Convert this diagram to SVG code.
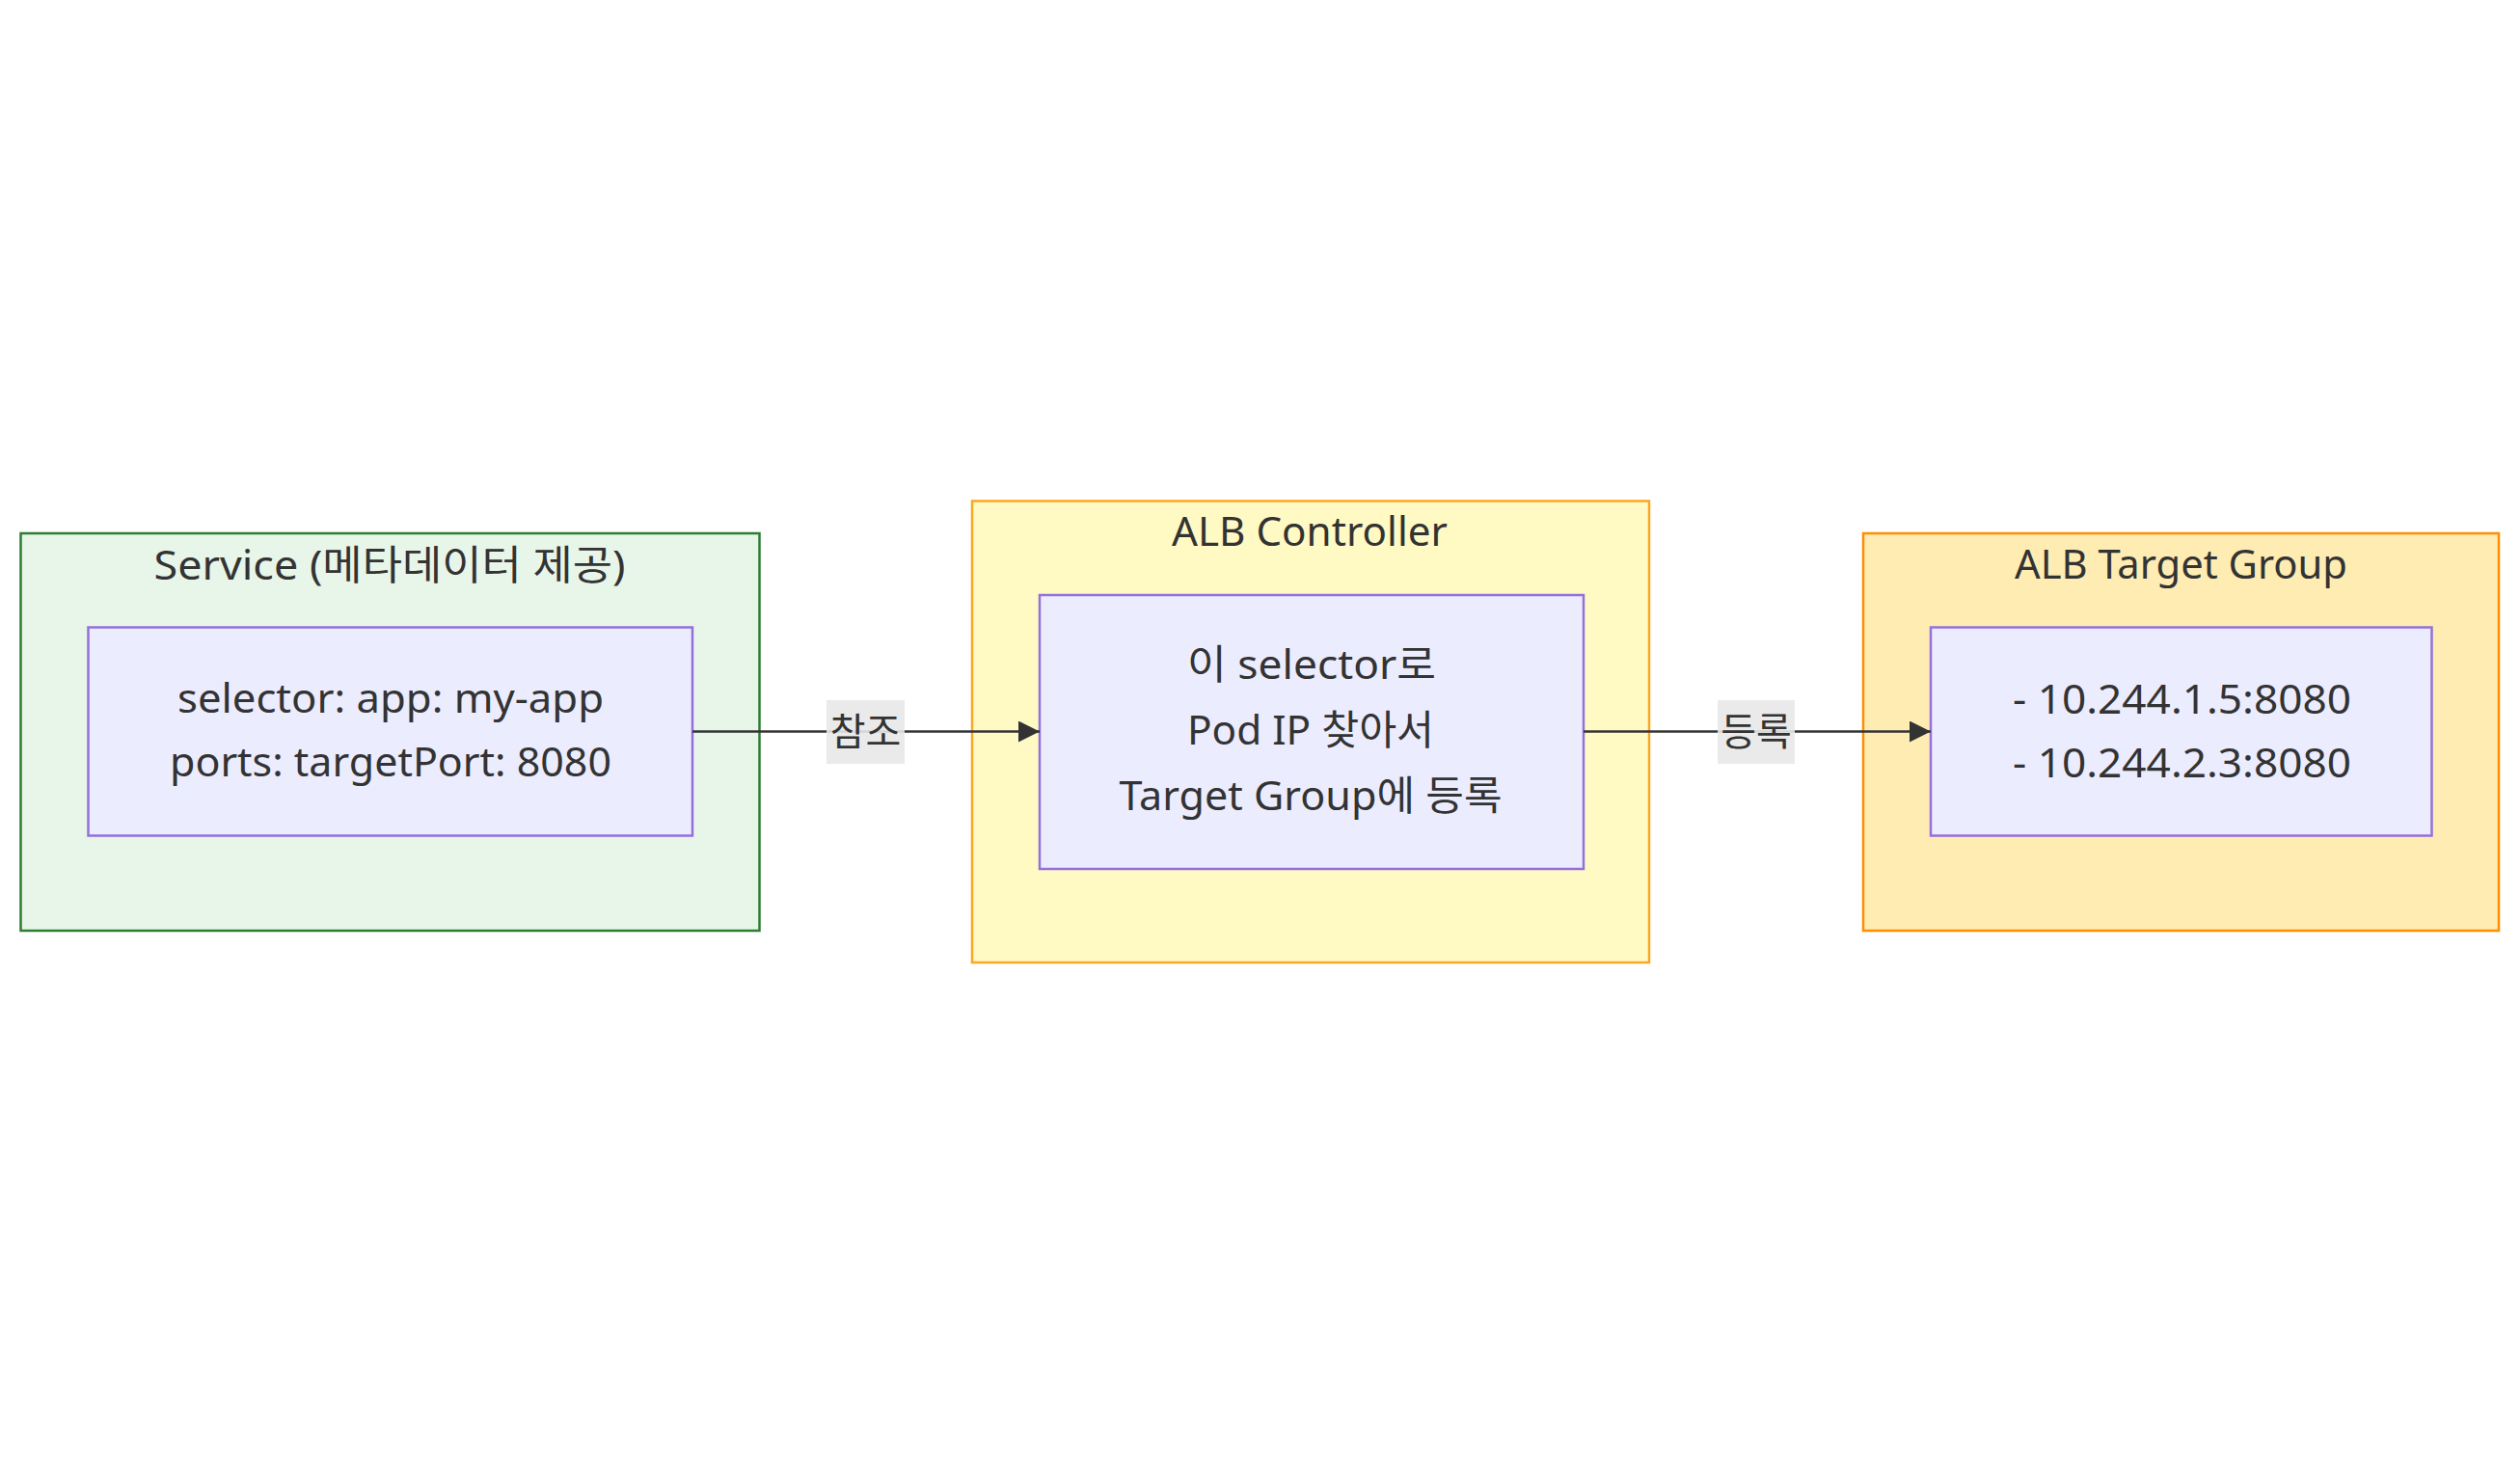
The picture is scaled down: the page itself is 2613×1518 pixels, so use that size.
<svg xmlns="http://www.w3.org/2000/svg" width="2613" height="1518" viewBox="0 0 2613 1518">
<style>
text{font-family:"Noto Sans","Noto Sans CJK KR",sans-serif;font-size:42px;fill:#333;text-anchor:middle}
.el{font-family:"Noto Sans CJK KR",sans-serif;font-size:40px}
.node{fill:#ececff;stroke:#9370db;stroke-width:2.5}
.edge{stroke:#333;stroke-width:2.5;fill:none}
.lbl{fill:#e8e8e8;opacity:0.9}
</style>
<defs>
<marker id="arr" markerWidth="22" markerHeight="22" refX="22" refY="11" orient="auto" markerUnits="userSpaceOnUse">
<path d="M0,0 L22,11 L0,22 Z" fill="#333"/>
</marker>
</defs>
<rect width="2613" height="1518" fill="#fff"/>
<g id="cluster-service">
<rect x="21.5" y="553" width="766" height="412" fill="#e8f5e9" stroke="#2e7d32" stroke-width="2.5"/>
<text x="404" y="601" textLength="489" lengthAdjust="spacingAndGlyphs">Service (메타데이터 제공)</text>
</g>
<g id="cluster-controller">
<rect x="1008" y="519.5" width="702" height="478.5" fill="#fff9c4" stroke="#f9a825" stroke-width="2.5"/>
<text x="1358" y="566" textLength="286" lengthAdjust="spacingAndGlyphs">ALB Controller</text>
</g>
<g id="cluster-target">
<rect x="1932" y="553" width="659" height="412" fill="#ffecb3" stroke="#ff8f00" stroke-width="2.5"/>
<text x="2261.5" y="600" textLength="345" lengthAdjust="spacingAndGlyphs">ALB Target Group</text>
</g>
<g id="node-service">
<rect class="node" x="91.5" y="650.5" width="626.5" height="216"/>
<text x="405" y="739" textLength="442" lengthAdjust="spacingAndGlyphs">selector: app: my-app</text>
<text x="405" y="805" textLength="458" lengthAdjust="spacingAndGlyphs">ports: targetPort: 8080</text>
</g>
<g id="node-controller">
<rect class="node" x="1078" y="617" width="564" height="284"/>
<text x="1360" y="704" textLength="258" lengthAdjust="spacingAndGlyphs">이 selector로</text>
<text x="1359" y="772" textLength="256" lengthAdjust="spacingAndGlyphs">Pod IP 찾아서</text>
<text x="1359" y="840" textLength="397" lengthAdjust="spacingAndGlyphs">Target Group에 등록</text>
</g>
<g id="node-target">
<rect class="node" x="2002" y="650.5" width="519.5" height="216"/>
<text x="2262.5" y="740" textLength="351" lengthAdjust="spacingAndGlyphs">- 10.244.1.5:8080</text>
<text x="2262.5" y="806" textLength="351" lengthAdjust="spacingAndGlyphs">- 10.244.2.3:8080</text>
</g>
<g id="connectors">
<path class="edge" d="M718,758.5 L1078,758.5" marker-end="url(#arr)"/>
<path class="edge" d="M1642,758.5 L2002,758.5" marker-end="url(#arr)"/>
<rect class="lbl" x="857" y="726" width="81" height="66"/>
<text class="el" x="897.5" y="773">참조</text>
<rect class="lbl" x="1781" y="726" width="80" height="66"/>
<text class="el" x="1821" y="773">등록</text>
</g>
</svg>
